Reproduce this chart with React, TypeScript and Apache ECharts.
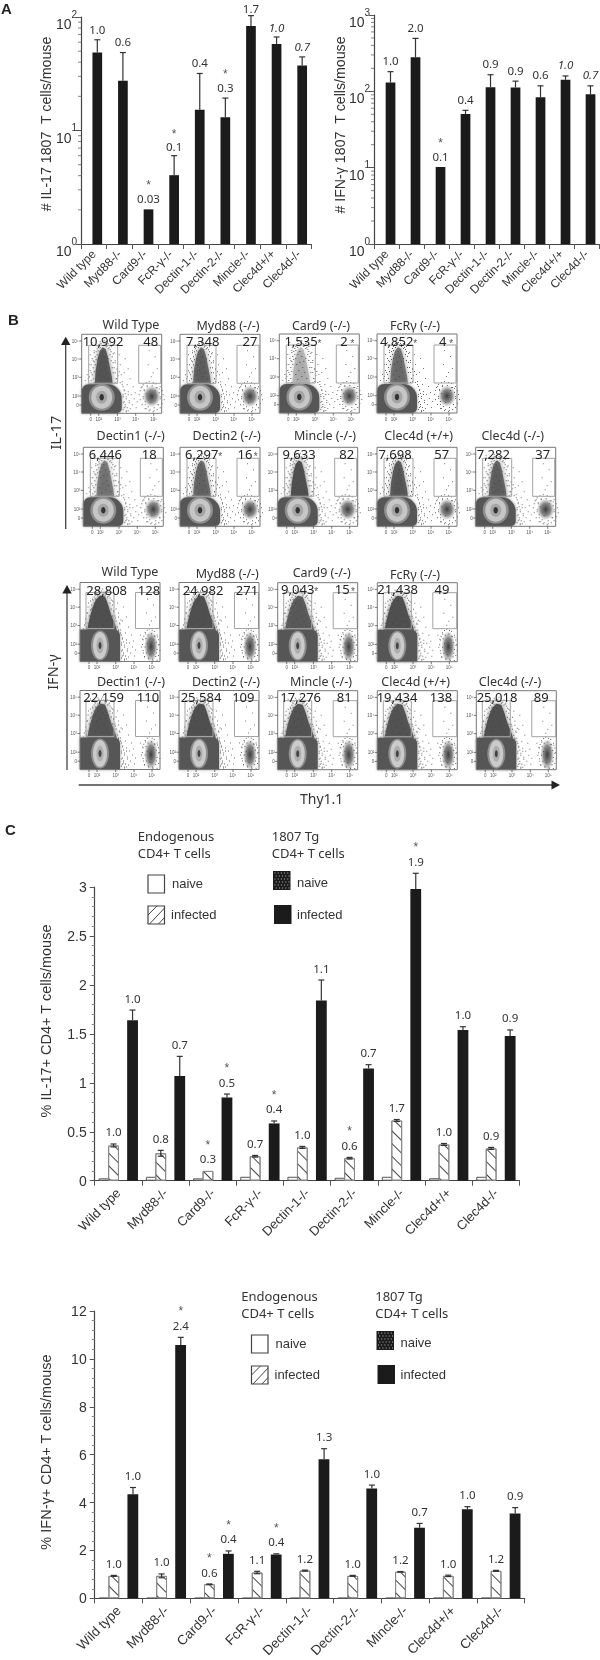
import React, { useEffect, useRef } from "react";
import * as echarts from "echarts";

const SANS = "Liberation Sans";
const NOTO = "Noto Sans";
const INK = "#333333";
const BAR = "#1b1b1b";

const categoriesA = ["Wild type", "Myd88-/-", "Card9-/-", "FcR-γ-/-", "Dectin-1-/-", "Dectin-2-/-", "Mincle-/-", "Clec4d+/+", "Clec4d-/-"];

// Panel A
const il17Mean = [48.6, 27.4, 2.02, 4.04, 15.2, 13.1, 83.4, 57.9, 37.4];
const il17Hi = [63, 48.6, 2.02, 6.0, 31.8, 19.3, 102.8, 66.7, 44.5];
const il17Fold = ["1.0", "0.6", "0.03", "0.1", "0.4", "0.3", "1.7", "1.0", "0.7"];
const il17Star = [0, 0, 1, 1, 0, 1, 0, 0, 0];
const ifnMean = [131, 279, 10.2, 50.5, 113, 112, 83.4, 142, 91.4];
const ifnHi = [181, 494, 10.2, 56.4, 165, 136, 118, 159, 118];
const ifnFold = ["1.0", "2.0", "0.1", "0.4", "0.9", "0.9", "0.6", "1.0", "0.7"];
const ifnStar = [0, 0, 1, 0, 0, 0, 0, 0, 0];
const italicA = [0, 0, 0, 0, 0, 0, 0, 1, 1];
const logMinorTicks = [2, 3, 4, 5, 6, 7, 8, 9, 20, 30, 40, 50, 60, 70, 80, 90, 200, 300, 400, 500, 600, 700, 800, 900];

// Panel C, IL-17
const c1Naive = [0.024, 0.04, 0.024, 0.04, 0.04, 0.03, 0.04, 0.025, 0.04];
const c1Hatched = [0.36, 0.28, 0.1, 0.25, 0.34, 0.23, 0.615, 0.37, 0.33];
const c1HatchedHi = [0.375, 0.31, 0.1, 0.258, 0.35, 0.238, 0.625, 0.38, 0.34];
const c1TgNaive = [0, 0, 0, 0, 0, 0, 0, 0, 0];
const c1Tg = [1.64, 1.07, 0.85, 0.585, 1.84, 1.147, 2.98, 1.54, 1.478];
const c1TgHi = [1.743, 1.27, 0.885, 0.61, 2.05, 1.185, 3.14, 1.573, 1.54];
const c1HatchedFold = ["1.0", "0.8", "0.3", "0.7", "1.0", "0.6", "1.7", "1.0", "0.9"];
const c1HatchedStar = [0, 0, 1, 0, 0, 1, 0, 0, 0];
const c1TgFold = ["1.0", "0.7", "0.5", "0.4", "1.1", "0.7", "1.9", "1.0", "0.9"];
const c1TgStar = [0, 0, 1, 1, 0, 0, 1, 0, 0];

// Panel C, IFN-γ
const c2Naive = [0.02, 0.02, 0.02, 0.02, 0.02, 0.02, 0.02, 0.02, 0.02];
const c2Hatched = [0.94, 0.94, 0.59, 1.08, 1.16, 0.94, 1.11, 0.94, 1.15];
const c2HatchedHi = [0.96, 1.02, 0.6, 1.13, 1.18, 0.96, 1.12, 0.97, 1.17];
const c2TgNaive = [0, 0, 0, 0, 0, 0, 0, 0, 0];
const c2Tg = [4.35, 10.58, 1.86, 1.83, 5.81, 4.59, 2.95, 3.72, 3.54];
const c2TgHi = [4.63, 10.9, 1.98, 1.86, 6.25, 4.73, 3.13, 3.83, 3.79];
const c2HatchedFold = ["1.0", "1.0", "0.6", "1.1", "1.2", "1.0", "1.2", "1.0", "1.2"];
const c2HatchedStar = [0, 0, 1, 0, 0, 0, 0, 0, 0];
const c2TgFold = ["1.0", "2.4", "0.4", "0.4", "1.3", "1.0", "0.7", "1.0", "0.9"];
const c2TgStar = [0, 1, 1, 1, 0, 0, 0, 0, 0];

// Panel B, gate counts
const il17Titles = ["Wild Type", "Myd88 (-/-)", "Card9 (-/-)", "FcRγ (-/-)", "Dectin1 (-/-)", "Dectin2 (-/-)", "Mincle (-/-)", "Clec4d (+/+)", "Clec4d (-/-)"];
const il17Left = ["10,992", "7,348", "1,535", "4,852", "6,446", "6,297", "9,633", "7,698", "7,282"];
const il17Right = ["48", "27", "2", "4", "18", "16", "82", "57", "37"];
const il17Stars = [0, 0, 1, 1, 0, 1, 0, 0, 0];
const ifnLeft = ["28,808", "24,982", "9,043", "21,438", "22,159", "25,584", "17,276", "19,434", "25,018"];
const ifnRight = ["128", "271", "15", "49", "110", "109", "81", "138", "89"];
const ifnStars = [0, 0, 1, 0, 0, 0, 0, 0, 0];
const flowPowers = ["10⁵", "10⁴", "10³", "10²", "0"];

// frameX, frameY, titleX, titleY, leftX, rightX, countY
const il17Layout = [
  [81.7, 334.3, 131, 324, 103, 150.7, 341],
  [180, 334.3, 228, 325, 202.7, 250, 341],
  [279.3, 334, 321, 325, 301, 344, 341],
  [377, 334, 415, 325, 396.7, 442.7, 341],
  [83.3, 447.3, 130.7, 435.7, 105.3, 149.3, 454],
  [180, 447.3, 226.7, 435.7, 201.7, 245, 454],
  [277.7, 447.3, 325, 435.7, 299, 346.7, 454],
  [377, 447.3, 418.7, 435.7, 395, 441.7, 454],
  [475.7, 447.3, 512.7, 435.7, 493.3, 542.7, 454],
];
const ifnLayout = [
  [80, 582.5, 130, 571.7, 106.7, 149, 589.5],
  [179, 582.5, 227.3, 573, 203, 247, 589.5],
  [277.7, 582.7, 321.7, 572.7, 297.7, 342.3, 589],
  [377.3, 582.7, 415, 574, 397.7, 442, 589],
  [80, 690.5, 131, 681.3, 103.7, 148, 697],
  [179, 690.5, 226, 681.3, 201, 243.3, 696.5],
  [277.7, 690.7, 321, 681.3, 300.7, 344.3, 697],
  [377.3, 690.7, 415.7, 681.3, 397, 441, 696.5],
  [476.3, 690.7, 510, 681.3, 497, 541.3, 697],
];
const il17ColumnStrength = [0.9, 0.8, 0.3, 0.68, 0.62, 0.75, 1, 0.88, 0.8];
const ifnColumnStrength = [1, 1, 0.85, 1, 0.92, 1, 0.95, 0.95, 1];
const il17ColumnShape = [[13, 50], [14, 36], [16, 24], [18, 17], [21, 13], [24, 15], [26, 22], [28, 32], [30, 42], [31, 50]];
const ifnColumnShape = [[7, 48], [10, 34], [13, 24], [16, 17], [20, 13], [25, 14], [28, 22], [31, 32], [35, 42], [37, 48]];
const sparseDots = [
  [42, 55], [44, 62], [46, 57], [41, 68], [43, 72], [47, 66], [49, 60], [50, 70], [52, 64], [54, 73],
  [45, 50], [48, 44], [51, 52], [40, 47], [39, 40], [53, 58], [55, 67], [44, 76], [48, 74], [41, 60],
  [60, 52], [62, 56], [63, 70], [64, 74], [65, 51], [77, 54], [76, 70], [78, 62], [61, 64], [68, 75],
  [72, 76], [74, 53], [71, 38], [66, 30], [73, 22], [69, 42], [75, 34], [67, 16], [10, 8], [14, 11],
  [18, 9], [24, 10], [29, 12], [8, 20], [7, 30], [9, 38], [6, 44], [33, 28], [35, 35], [37, 20],
  [12, 16], [32, 18], [11, 26], [34, 44], [42, 38], [3, 46], [5, 40], [38, 30], [43, 24], [46, 34],
];
const columnDots = [
  [10, 40], [11, 33], [12, 27], [13, 22], [14, 17], [15, 14], [17, 10], [19, 9], [21, 8], [23, 9],
  [25, 11], [27, 13], [29, 17], [30, 22], [31, 28], [32, 33], [33, 38], [34, 44], [9, 46], [8, 36],
  [10, 24], [12, 18], [16, 12], [18, 7], [22, 6], [26, 9], [28, 15], [31, 19], [33, 26], [35, 34],
  [36, 41], [11, 44], [12, 37], [13, 30], [14, 25], [15, 20], [16, 16], [18, 13], [24, 12], [26, 14],
  [28, 20], [29, 26], [30, 33], [31, 38], [12, 48], [33, 48], [9, 30], [7, 42], [35, 47], [37, 37],
  [16, 24], [18, 20], [20, 17], [22, 22], [24, 27], [17, 30], [20, 28], [23, 33], [26, 24], [19, 36],
  [16, 40], [22, 42], [25, 38], [27, 44], [18, 45],
];
const blobDots = [
  [41, 52], [42, 56], [43, 59], [41, 62], [44, 64], [42, 67], [43, 70], [45, 73], [41, 75], [44, 77],
  [46, 60], [47, 68], [40, 50], [38, 48], [42, 73], [46, 76],
];
const clusterDots = [
  [-11, -9], [-9, -12], [-6, -14], [-3, -15], [1, -14], [4, -13], [8, -10], [10, -6], [11, -2], [12, 3],
  [10, 7], [8, 11], [5, 13], [1, 15], [-3, 14], [-7, 12], [-10, 8], [-12, 3], [-13, -2], [-12, -6],
  [-8, -7], [-5, -10], [0, -11], [5, -9], [7, -4], [8, 2], [6, 8], [2, 11], [-4, 10], [-7, 5],
  [-9, 0], [-6, -3], [3, -6], [-2, 6],
];

const chartGrids = [
  { left: 81, top: 17, width: 230.5, height: 227 },
  { left: 374, top: 15, width: 225, height: 229 },
  { left: 94.7, top: 887, width: 424.8, height: 293.7 },
  { left: 94.7, top: 1311, width: 430, height: 292.7 },
];

const hatchDecal = {
  symbol: "rect",
  symbolSize: 1,
  dashArrayX: [1, 0],
  dashArrayY: [1, 8],
  rotation: Math.PI / 4,
  color: "#444444",
  backgroundColor: "#ffffff",
};

function logLabel(v: number) {
  return `{b|10}{s|${Math.round(Math.log10(v))}}`;
}

function xAxisFor(i: number, fontSize: number, margin: number) {
  return {
    type: "category",
    gridIndex: i,
    data: categoriesA,
    axisLine: { lineStyle: { color: "#444", width: 1.2 } },
    axisTick: { show: true, length: 5, lineStyle: { color: "#555", width: 1 } },
    axisLabel: { interval: 0, rotate: 45, margin, fontSize, fontFamily: SANS, color: INK },
  };
}

function logYAxis(i: number, max: number) {
  return {
    type: "log",
    logBase: 10,
    gridIndex: i,
    min: 1,
    max,
    axisLine: { show: true, lineStyle: { color: "#444", width: 1.2 } },
    axisTick: { show: true, length: 5, lineStyle: { color: "#555" } },
    splitLine: { show: false },
    minorTick: { show: false },
    axisLabel: {
      formatter: logLabel,
      margin: 4,
      verticalAlign: "middle",
      padding: [6, 0, 0, 0],
      rich: {
        b: { fontSize: 14, fontFamily: SANS, color: INK, lineHeight: 22, verticalAlign: "bottom" },
        s: { fontSize: 10, fontFamily: SANS, color: INK, lineHeight: 22, verticalAlign: "top" },
      },
    },
  };
}

function linearYAxis(i: number, max: number, interval: number) {
  return {
    type: "value",
    gridIndex: i,
    min: 0,
    max,
    interval,
    axisLine: { show: true, lineStyle: { color: "#444", width: 1.2 } },
    axisTick: { show: true, length: 5, lineStyle: { color: "#555" } },
    minorTick: { show: true, splitNumber: 5, length: 3, lineStyle: { color: "#888" } },
    splitLine: { show: false },
    minorSplitLine: { show: false },
    axisLabel: { margin: 8, fontSize: 14, fontFamily: SANS, color: INK },
  };
}

function errorSeries(
  g: number,
  hi: number[],
  mean: number[],
  offset: number,
  both: boolean,
  fold: string[],
  star: number[],
  italic: number[] | null,
  gapLabel: number | number[],
  gapStar: number
) {
  return {
    type: "custom",
    xAxisIndex: g,
    yAxisIndex: g,
    z: 5,
    clip: false,
    silent: true,
    data: hi.map((h, i) => [i, h]),
    encode: { x: 0, y: 1 },
    renderItem(params: any, api: any) {
      const i = params.dataIndex;
      const top = api.coord([i, hi[i]]);
      const base = api.coord([i, mean[i]]);
      const x = top[0] + offset;
      const kids: any[] = [];
      const stroke = { stroke: "#333", lineWidth: 1.2 };
      if (hi[i] > mean[i]) {
        const low = both ? base[1] + (base[1] - top[1]) : base[1];
        kids.push({ type: "line", shape: { x1: x, y1: top[1], x2: x, y2: low }, style: stroke });
        kids.push({ type: "line", shape: { x1: x - 3, y1: top[1], x2: x + 3, y2: top[1] }, style: stroke });
        if (both) kids.push({ type: "line", shape: { x1: x - 3, y1: low, x2: x + 3, y2: low }, style: stroke });
      }
      const ly = top[1] - (Array.isArray(gapLabel) ? gapLabel[i] : gapLabel);
      kids.push({
        type: "text",
        x,
        y: ly,
        style: {
          text: fold[i],
          fill: INK,
          fontSize: 11.5,
          fontFamily: NOTO,
          fontStyle: italic && italic[i] ? "italic" : "normal",
          align: "center",
          verticalAlign: "middle",
        },
      });
      if (star[i]) {
        kids.push({
          type: "text",
          x,
          y: ly - gapStar + 3,
          style: { text: "*", fill: "#555", fontSize: 12, fontFamily: SANS, align: "center", verticalAlign: "middle" },
        });
      }
      return { type: "group", children: kids };
    },
  };
}

function logTickSeries(g: number, max: number) {
  return {
    type: "custom",
    xAxisIndex: g,
    yAxisIndex: g,
    silent: true,
    clip: false,
    data: logMinorTicks.filter((v) => v < max).map((v) => [0, v]),
    encode: { x: 0, y: 1 },
    renderItem(params: any, api: any) {
      const v = api.value(1);
      const y = api.coord([0, v])[1];
      const x = params.coordSys.x;
      return { type: "line", shape: { x1: x - 3, y1: y, x2: x, y2: y }, style: { stroke: "#666", lineWidth: 0.8 } };
    },
  };
}

function aSeries(g: number, mean: number[], gap: string, width: number) {
  return [
    {
      type: "bar",
      name: "spacer",
      xAxisIndex: g,
      yAxisIndex: g,
      data: mean.map(() => null),
      barWidth: width,
      barGap: gap,
      silent: true,
    },
    {
      type: "bar",
      name: "count",
      xAxisIndex: g,
      yAxisIndex: g,
      data: mean,
      barWidth: width,
      barGap: gap,
      silent: true,
      itemStyle: { color: BAR },
    },
  ];
}

function cSeries(g: number, naive: number[], hatched: number[], tgNaive: number[], tg: number[]) {
  const common = { type: "bar", xAxisIndex: g, yAxisIndex: g, barWidth: 10.8, barGap: "-12%", silent: true };
  return [
    { ...common, name: "Endogenous naive", data: naive, itemStyle: { color: "#fff", borderColor: "#555", borderWidth: 1 } },
    { ...common, name: "Endogenous infected", data: hatched, itemStyle: { color: "#fff", borderColor: "#888", borderWidth: 1, decal: hatchDecal } },
    { ...common, name: "1807 Tg naive", data: tgNaive, itemStyle: { color: BAR } },
    { ...common, name: "1807 Tg infected", data: tg, itemStyle: { color: BAR } },
  ];
}

function txt(text: string, x: number, y: number, fontSize: number, extra: any = {}, rotation = 0) {
  return {
    type: "text",
    x,
    y,
    rotation,
    silent: true,
    style: { text, fill: INK, fontSize, fontFamily: NOTO, align: "left", verticalAlign: "middle", ...extra },
  };
}

function dot(x: number, y: number, fill: string, opacity = 1) {
  return { type: "rect", silent: true, shape: { x, y, width: 1, height: 1 }, style: { fill, opacity } };
}

function flowPanel(
  lay: number[],
  title: string,
  left: string,
  right: string,
  star: number,
  strength: number,
  isIfn: boolean
) {
  const [fx, fy, tx, ty, lx, rx, cy] = lay;
  const w = 80;
  const h = 79;
  const out: any[] = [];
  const P = (x: number, y: number) => [fx + x, fy + y];
  sparseDots.forEach(([dx, dy]) => out.push(dot(fx + dx, fy + dy, "#777")));
  // upper population
  const col = (isIfn ? ifnColumnShape : il17ColumnShape).map(([x, y]) => P(x, y));
  out.push({
    type: "polygon",
    silent: true,
    shape: { points: col },
    style: { fill: "#505050", opacity: strength, shadowBlur: 5, shadowColor: "#666" },
  });
  columnDots.forEach(([dx, dy]) => {
    const x = isIfn ? 21 + (dx - 21) * 1.22 : dx;
    out.push(dot(fx + x, fy + dy, "#444", 0.85));
  });
  // right hand cluster
  const cc = isIfn ? P(71, 64) : P(70, 62);
  const crx = isIfn ? 7 : 9;
  const cry = isIfn ? 16 : 11;
  out.push({
    type: "ellipse",
    silent: true,
    shape: { cx: cc[0], cy: cc[1], rx: crx, ry: cry },
    style: {
      fill: {
        type: "radial",
        x: 0.5,
        y: 0.5,
        r: 0.5,
        colorStops: [
          { offset: 0, color: "rgba(50,50,50,0.95)" },
          { offset: 0.55, color: "rgba(70,70,70,0.65)" },
          { offset: 1, color: "rgba(120,120,120,0)" },
        ],
      },
    },
  });
  clusterDots.forEach(([dx, dy]) => {
    const x = isIfn ? dx * 0.7 : dx;
    const y = isIfn ? dy * 1.2 : dy;
    if (cc[1] + y < fy + h - 1) out.push(dot(cc[0] + x, cc[1] + y, "#555", 0.9));
  });
  // main population
  const b = isIfn
    ? { x: fx, y: fy + 47, width: 40, height: h - 47, r: [1, 6, 0, 0] }
    : { x: fx, y: fy + 50, width: 40, height: h - 50, r: [7, 14, 5, 0] };
  out.push({ type: "rect", silent: true, shape: b, style: { fill: "#575757", shadowBlur: 3, shadowColor: "#888" } });
  blobDots.forEach(([dx, dy]) => out.push(dot(fx + dx, fy + dy, "#555", 0.9)));
  const ringC = P(20, 63);
  const rings: [number, number, string][] = isIfn
    ? [[9, 15, "#8e8e8e"], [7, 13.5, "#cbcbcb"], [3.5, 8, "#adadad"], [1.5, 3.5, "#444"]]
    : [[13, 13.5, "#8e8e8e"], [10.5, 11.5, "#c6c6c6"], [5.5, 6.5, "#a5a5a5"], [2.2, 3.2, "#333"]];
  rings.forEach(([rxx, ryy, fill]) => {
    out.push({ type: "ellipse", silent: true, shape: { cx: ringC[0], cy: ringC[1], rx: rxx, ry: ryy }, style: { fill } });
  });
  // gates
  const gate = { fill: "none", stroke: "#a3a3a3", lineWidth: 1 };
  if (isIfn) {
    out.push({ type: "rect", silent: true, shape: { x: fx + 6, y: fy + 10, width: 28, height: 36 }, style: gate });
    out.push({ type: "rect", silent: true, shape: { x: fx + 55.5, y: fy + 10, width: 24, height: 36 }, style: gate });
  } else {
    out.push({ type: "rect", silent: true, shape: { x: fx + 7, y: fy + 11, width: 29, height: 38 }, style: gate });
    out.push({ type: "rect", silent: true, shape: { x: fx + 57, y: fy + 11, width: 22, height: 38 }, style: gate });
  }
  // frame
  out.push({ type: "rect", silent: true, shape: { x: fx, y: fy, width: w, height: h }, style: { fill: "none", stroke: "#777", lineWidth: 1 } });
  // tiny scale ticks and labels
  [6.7, 24.7, 43, 61.7, 70.7].forEach((ry, k) => {
    out.push({ type: "line", silent: true, shape: { x1: fx - 2.5, y1: fy + ry, x2: fx, y2: fy + ry }, style: { stroke: "#555", lineWidth: 0.8 } });
    out.push(txt(flowPowers[k], fx - 3, fy + ry, 4.5, { align: "right", fontFamily: SANS, fill: "#555" }));
  });
  [9, 17, 35.7, 54, 72].forEach((rx2, k) => {
    out.push({ type: "line", silent: true, shape: { x1: fx + rx2, y1: fy + h, x2: fx + rx2, y2: fy + h + 2.5 }, style: { stroke: "#555", lineWidth: 0.8 } });
    out.push(txt(flowPowers[4 - k], fx + rx2, fy + h + 6, 4.5, { align: "center", fontFamily: SANS, fill: "#555" }));
  });
  // texts
  out.push(txt(title, tx, ty, 12.5, { align: "center" }));
  out.push(txt(left, lx, cy, 13, { align: "center", fill: "#222" }));
  out.push(txt(right, rx, cy, 13, { align: "center", fill: "#222" }));
  if (star) {
    out.push(txt("*", lx + 18.5, cy + 2, 10, { align: "center", fontFamily: SANS, fill: "#555" }));
    out.push(txt("*", rx + (right.length > 1 ? 10.7 : 8.5), cy + 2, 10, { align: "center", fontFamily: SANS, fill: "#555" }));
  }
  return out;
}

function legendBlock(ox: number, oy: number) {
  const out: any[] = [];
  out.push(txt("Endogenous", ox + 137.7, oy + 836, 13));
  out.push(txt("CD4+ T cells", ox + 137.7, oy + 853, 13));
  out.push(txt("1807 Tg", ox + 271.7, oy + 836, 13));
  out.push(txt("CD4+ T cells", ox + 271.7, oy + 853, 13));
  const boxStyle = { fill: "#fff", stroke: "#444", lineWidth: 1.2 };
  out.push({ type: "rect", silent: true, shape: { x: ox + 148, y: oy + 875, width: 16.5, height: 18 }, style: boxStyle });
  out.push({ type: "rect", silent: true, shape: { x: ox + 148, y: oy + 906, width: 16.5, height: 18 }, style: boxStyle });
  [[0, 9, 9, 0], [1.5, 18, 16.5, 2], [10.5, 18, 16.5, 11.5]].forEach(([a, b, c, d]) => {
    out.push({
      type: "line",
      silent: true,
      shape: { x1: ox + 148 + a, y1: oy + 906 + b, x2: ox + 148 + c, y2: oy + 906 + d },
      style: { stroke: "#444", lineWidth: 1 },
    });
  });
  out.push(txt("naive", ox + 172, oy + 883, 13, { fontFamily: SANS }));
  out.push(txt("infected", ox + 171, oy + 914, 13, { fontFamily: SANS }));
  out.push({ type: "rect", silent: true, shape: { x: ox + 273, y: oy + 871, width: 17.5, height: 19 }, style: { fill: BAR } });
  for (let r = 0; r < 6; r++) {
    for (let c = 0; c < 5; c++) {
      out.push({
        type: "rect",
        silent: true,
        shape: { x: ox + 274.5 + c * 3.2 + (r % 2) * 1.2, y: oy + 872.5 + r * 3, width: 1, height: 1 },
        style: { fill: "#bbb" },
      });
    }
  }
  out.push({ type: "rect", silent: true, shape: { x: ox + 274, y: oy + 905, width: 17.5, height: 19 }, style: { fill: BAR } });
  out.push(txt("naive", ox + 297, oy + 882, 13, { fontFamily: SANS }));
  out.push(txt("infected", ox + 297, oy + 914, 13, { fontFamily: SANS }));
  return out;
}

function buildGraphic() {
  const els: any[] = [];
  const bold = { fontWeight: "bold", fontFamily: SANS, fill: "#222" };
  els.push(txt("A", 1, 8, 15, bold));
  els.push(txt("B", 8, 319, 15, bold));
  els.push(txt("C", 5, 829, 15, bold));
  const up = Math.PI / 2;
  els.push(txt("# IL-17 1807  T cells/mouse", 46, 124, 14.2, { align: "center", fontFamily: SANS }, up));
  els.push(txt("# IFN-γ 1807  T cells/mouse", 340, 125, 14.2, { align: "center", fontFamily: SANS }, up));
  els.push(txt("% IL-17+ CD4+ T cells/mouse", 46, 1021, 14.5, { align: "center", fontFamily: SANS }, up));
  els.push(txt("% IFN-γ+ CD4+ T cells/mouse", 46, 1452, 14.5, { align: "center", fontFamily: SANS }, up));
  il17Layout.forEach((lay, i) => {
    els.push(...flowPanel(lay, il17Titles[i], il17Left[i], il17Right[i], il17Stars[i], il17ColumnStrength[i], false));
  });
  ifnLayout.forEach((lay, i) => {
    els.push(...flowPanel(lay, il17Titles[i], ifnLeft[i], ifnRight[i], ifnStars[i], ifnColumnStrength[i], true));
  });
  const arrow = { stroke: "#444", lineWidth: 1.3 };
  els.push({ type: "line", silent: true, shape: { x1: 65.7, y1: 529, x2: 65.7, y2: 343 }, style: arrow });
  els.push({ type: "polygon", silent: true, shape: { points: [[65.7, 336.7], [61, 345], [70.4, 345]] }, style: { fill: "#222" } });
  els.push(txt("IL-17", 55, 432.7, 14.5, { align: "center" }, up));
  els.push({ type: "line", silent: true, shape: { x1: 67, y1: 770, x2: 67, y2: 590 }, style: arrow });
  els.push({ type: "polygon", silent: true, shape: { points: [[67, 585], [62.3, 593.5], [71.7, 593.5]] }, style: { fill: "#222" } });
  els.push(txt("IFN-γ", 51.7, 672, 14.5, { align: "center" }, up));
  els.push({ type: "line", silent: true, shape: { x1: 78.7, y1: 785, x2: 555, y2: 785 }, style: arrow });
  els.push({ type: "polygon", silent: true, shape: { points: [[560, 785], [551.5, 780.5], [551.5, 789.5]] }, style: { fill: "#222" } });
  els.push(txt("Thy1.1", 321.7, 798, 14, { align: "center" }));
  els.push(...legendBlock(0, 0));
  els.push(...legendBlock(103.5, 460));
  return els;
}

export default function App() {
  const ref = useRef<HTMLDivElement>(null);
  useEffect(() => {
    document.body.style.margin = "0";
    const chart = echarts.init(ref.current!, undefined, { renderer: "svg" });
    chart.setOption({
      animation: false,
      backgroundColor: "#ffffff",
      grid: chartGrids.map((g) => ({ ...g, containLabel: false })),
      xAxis: [xAxisFor(0, 12, 8), xAxisFor(1, 12, 8), xAxisFor(2, 13, 10), xAxisFor(3, 13.5, 10)],
      yAxis: [logYAxis(0, 100), logYAxis(1, 1000), linearYAxis(2, 3, 0.5), linearYAxis(3, 12, 2)],
      series: [
        ...aSeries(0, il17Mean, "-28%", 9.7),
        logTickSeries(0, 100),
        errorSeries(0, il17Hi, il17Mean, 3.5, false, il17Fold, il17Star, italicA, [10, 11, 11, 9, 11, 11, 7.5, 9, 10], 16),
        ...aSeries(1, ifnMean, "-17%", 9.7),
        logTickSeries(1, 1000),
        errorSeries(1, ifnHi, ifnMean, 4, false, ifnFold, ifnStar, italicA, 11, 16),
        ...cSeries(2, c1Naive, c1Hatched, c1TgNaive, c1Tg),
        errorSeries(2, c1HatchedHi, c1Hatched, -4.75, true, c1HatchedFold, c1HatchedStar, null, 12, 17),
        errorSeries(2, c1TgHi, c1Tg, 14.25, false, c1TgFold, c1TgStar, null, 12, 17),
        ...cSeries(3, c2Naive, c2Hatched, c2TgNaive, c2Tg),
        errorSeries(3, c2HatchedHi, c2Hatched, -4.8, true, c2HatchedFold, c2HatchedStar, null, 12, 17),
        errorSeries(3, c2TgHi, c2Tg, 14.4, false, c2TgFold, c2TgStar, null, 12, 17),
      ],
      graphic: { elements: buildGraphic() },
    });
    return () => chart.dispose();
  }, []);
  return <div ref={ref} style={{ width: 600, height: 1660, filter: "blur(0.35px)" }} />;
}
